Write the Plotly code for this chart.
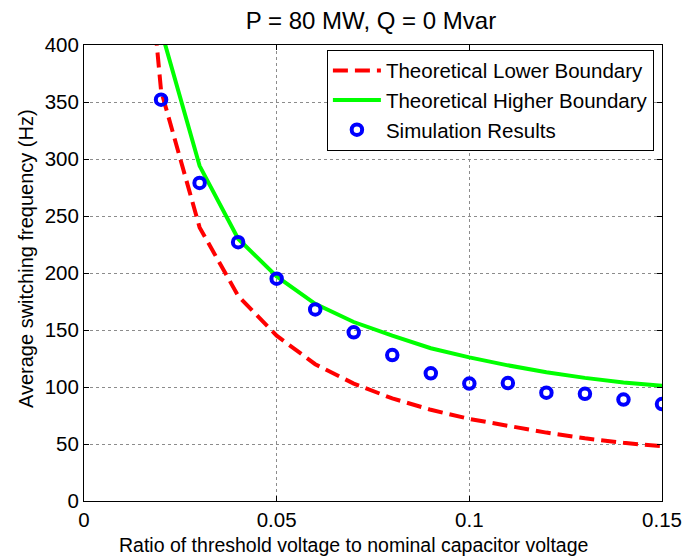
import plotly.graph_objects as go

ratio_lower = [0.01, 0.02, 0.03, 0.04, 0.05, 0.06, 0.07, 0.08, 0.09, 0.10, 0.11, 0.12, 0.13, 0.14, 0.15]
freq_lower = [720, 360, 240, 180, 145, 120, 103, 90, 80, 72, 66, 60, 55, 51, 48]

ratio_upper = [0.02, 0.03, 0.04, 0.05, 0.06, 0.07, 0.08, 0.09, 0.10, 0.11, 0.12, 0.13, 0.14, 0.15]
freq_upper = [413, 294, 230, 197, 173, 157, 145, 134, 126, 119, 113, 108, 104, 101]

ratio_sim = [0.02, 0.03, 0.04, 0.05, 0.06, 0.07, 0.08, 0.09, 0.10, 0.11, 0.12, 0.13, 0.14, 0.15]
freq_sim = [352, 279, 227, 195, 168, 148, 128, 112, 103, 103.5, 95, 94, 89, 85]

x_ticks = [0, 0.05, 0.1, 0.15]
x_ticktext = ["0", "0.05", "0.1", "0.15"]
y_ticks = [0, 50, 100, 150, 200, 250, 300, 350, 400]

FONT = "Liberation Sans, Arial, sans-serif"

fig = go.Figure()
fig.add_trace(go.Scatter(x=ratio_lower, y=freq_lower, mode="lines",
                         name="Theoretical Lower Boundary",
                         line=dict(color="#ff0000", width=4, dash="15px,7px")))
fig.add_trace(go.Scatter(x=ratio_upper, y=freq_upper, mode="lines",
                         name="Theoretical Higher Boundary",
                         line=dict(color="#00ff00", width=4)))
fig.add_trace(go.Scatter(x=ratio_sim, y=freq_sim, mode="markers",
                         name="Simulation Results",
                         marker=dict(symbol="circle-open", size=10.5, color="#0000ff",
                                     line=dict(color="#0000ff", width=4))))

axis_common = dict(showline=True, linecolor="black", linewidth=1, mirror="ticks",
                   ticks="inside", ticklen=5, tickcolor="black",
                   showgrid=True, gridcolor="#8c8c8c", griddash="dot", gridwidth=1,
                   zeroline=False, automargin=False,
                   tickfont=dict(size=20.5, color="black", family=FONT))

fig.update_layout(
    width=685, height=560,
    paper_bgcolor="white", plot_bgcolor="white",
    margin=dict(l=84, r=23, t=45, b=59),
    font=dict(family=FONT, color="black"),
    title=dict(text="P = 80 MW, Q = 0 Mvar", x=0.5416, xanchor="center", y=0.963, yanchor="middle",
               font=dict(size=24, color="black", family=FONT)),
    xaxis=dict(range=[0, 0.15], tickvals=x_ticks, ticktext=x_ticktext, **axis_common),
    yaxis=dict(range=[0, 400], tickvals=y_ticks, **axis_common),
    legend=dict(x=0.986, y=0.99, xanchor="right", yanchor="top",
                bgcolor="white", bordercolor="black", borderwidth=1,
                font=dict(size=20.5, family=FONT, color="black"),
                itemwidth=48, tracegroupgap=0),
    showlegend=True,
    annotations=[
        dict(text="Ratio of threshold voltage to nominal capacitor voltage",
             xref="paper", yref="paper", x=0.4663, y=-0.0975,
             xanchor="center", yanchor="middle", showarrow=False,
             font=dict(size=19.5, family=FONT, color="black")),
        dict(text="Average switching frequency (Hz)",
             xref="paper", yref="paper", x=-0.1003, y=0.5307,
             xanchor="center", yanchor="middle", showarrow=False, textangle=-90,
             font=dict(size=20, family=FONT, color="black")),
    ],
)

fig.write_html("out.html")
